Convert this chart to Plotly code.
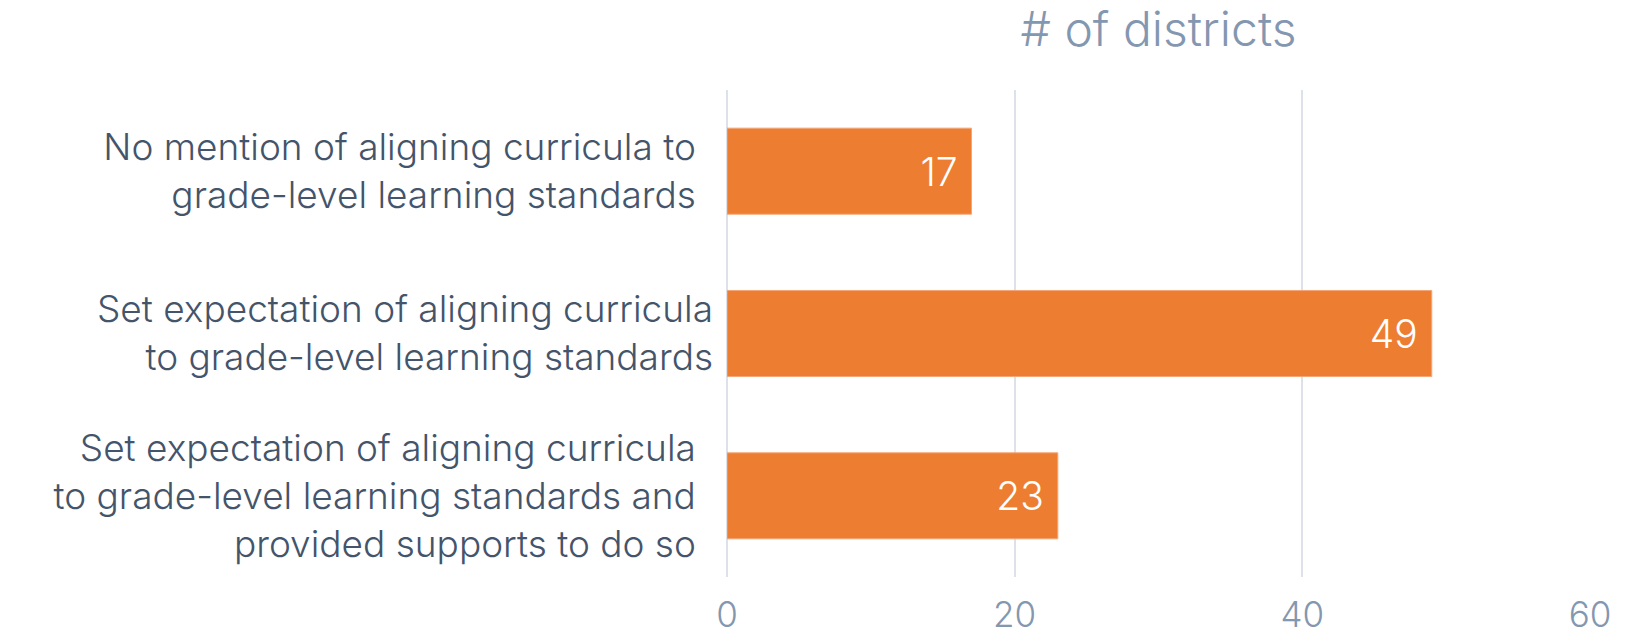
import plotly.graph_objects as go

NB = "\u00a0"
THIN = "\u2009"
categories = [
    "No mention of aligning curricula to<br>grade-level learning standards",
    "Set expectation of aligning curricula<br>to grade-level learning standards",
    "Set expectation of aligning curricula<br>to grade-level learning standards and<br>provided supports to do so",
]
values = [17, 49, 23]
tick_vals = [0, 20, 40, 60]
axis_title = "# of districts"

# labels 1 and 3 sit a bit further from the axis than label 2
pads = [NB + THIN, "", NB + THIN]
labels = ["<br>".join(l + p for l in c.split("<br>")) for c, p in zip(categories, pads)]

FONT = "Inter"
fig = go.Figure(
    go.Bar(
        x=values,
        y=labels,
        orientation="h",
        marker=dict(color="#ED7D31", line=dict(color="#F3A777", width=1)),
        text=[f"{v}{NB}" for v in values],
        textposition="inside",
        insidetextanchor="end",
        textfont=dict(color="white", size=39, family=FONT, weight=300),
        constraintext="none",
        width=0.53,
        hoverinfo="skip",
    )
)

fig.update_layout(
    width=1627,
    height=637,
    margin=dict(l=727, r=37, t=90, b=60),
    paper_bgcolor="white",
    plot_bgcolor="white",
    showlegend=False,
    font=dict(family=FONT),
    title=dict(
        text=axis_title,
        x=0.5,
        xref="paper",
        xanchor="center",
        y=1 - 29 / 637,
        yref="container",
        yanchor="middle",
        font=dict(size=48, color="#8497B0", family=FONT, weight=300),
    ),
)
fig.update_xaxes(
    range=[0, 60],
    tickvals=tick_vals,
    showgrid=True,
    gridcolor="#DCE1EA",
    gridwidth=2,
    zeroline=True,
    zerolinecolor="#DCE1EA",
    zerolinewidth=2,
    showline=False,
    tickfont=dict(size=35, color="#8497B0", family=FONT, weight=300),
    ticklabelstandoff=14,
    automargin=False,
    fixedrange=True,
)
fig.update_yaxes(
    autorange="reversed",
    showgrid=False,
    showline=False,
    zeroline=False,
    tickfont=dict(size=37, color="#44546A", family=FONT, weight=350),
    ticklabelstandoff=13,
    automargin=False,
    fixedrange=True,
)

fig.write_html("out.html")
